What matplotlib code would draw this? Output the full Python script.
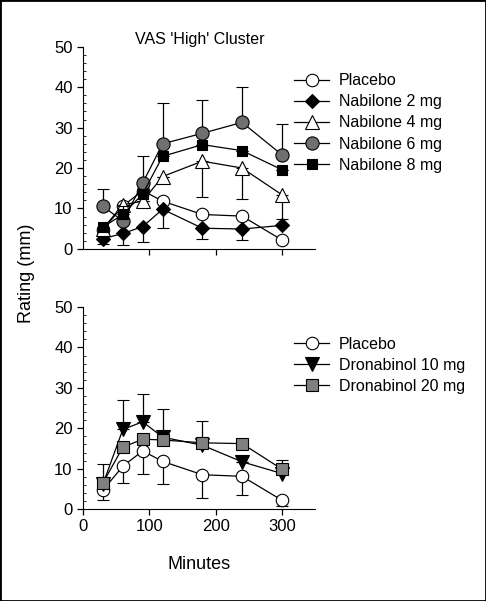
import matplotlib

matplotlib.use("Agg")
import matplotlib.pyplot as plt
from matplotlib.lines import Line2D
from matplotlib.patches import Rectangle
from matplotlib.ticker import MultipleLocator

plt.rcParams["font.family"] = ["Liberation Sans", "DejaVu Sans"]

minutes = [30, 60, 90, 120, 180, 240, 300]

# top panel: nabilone
top_labels = ["Placebo", "Nabilone 2 mg", "Nabilone 4 mg", "Nabilone 6 mg", "Nabilone 8 mg"]
placebo = [4.7, 10.6, 14.4, 11.8, 8.5, 8.1, 2.2]
nab2 = [2.5, 3.8, 5.5, 9.8, 5.1, 4.9, 5.8]
nab4 = [5.0, 10.9, 11.8, 17.9, 21.7, 20.0, 13.4]
nab6 = [10.5, 6.9, 16.3, 26.0, 28.6, 31.3, 23.3]
nab8 = [5.4, 8.5, 13.6, 22.9, 25.8, 24.3, 19.6]
# error bar lengths (below, above); 0 where the bar is not visible
placebo_top_lo = [0, 0, 0, 0, 0, 0, 0]
placebo_top_hi = [0, 0, 0, 0, 0, 0, 0]
nab2_lo = [1.2, 2.8, 3.9, 4.7, 2.6, 2.7, 0]
nab2_hi = [0, 0, 0, 0, 0, 0, 0]
nab4_lo = [0, 0, 0, 0, 8.8, 7.7, 6.0]
nab4_hi = [0, 0, 0, 0, 0, 0, 0]
nab6_lo = [0, 0, 0, 0, 0, 0, 0]
nab6_hi = [4.4, 3.8, 6.6, 10.0, 8.3, 8.7, 7.6]
nab8_lo = [0, 0, 0, 0, 0, 0, 0]
nab8_hi = [0, 0, 0, 0, 0, 0, 0]

# bottom panel: dronabinol
bot_labels = ["Placebo", "Dronabinol 10 mg", "Dronabinol 20 mg"]
dro10 = [6.2, 19.7, 21.6, 17.8, 15.8, 11.7, 8.8]
dro20 = [6.5, 15.3, 17.3, 17.1, 16.4, 16.2, 9.9]
placebo_lo = [2.5, 4.2, 5.8, 5.6, 5.7, 4.5, 1.4]
placebo_hi = [0, 0, 0, 0, 0, 0, 0]
dro10_lo = [0, 0, 0, 0, 0, 0, 0]
dro10_hi = [5.0, 7.3, 6.9, 6.9, 0, 0, 0]
dro20_lo = [0, 0, 0, 0, 0, 0, 0]
dro20_hi = [0, 0, 0, 0, 5.5, 0, 2.2]

fig = plt.figure(figsize=(4.86, 6.01), dpi=100)
ax1 = fig.add_axes([0.171, 0.586, 0.477, 0.336])
ax2 = fig.add_axes([0.171, 0.153, 0.477, 0.336])

styles_top = [
    dict(marker="o", mfc="white", ms=9),
    dict(marker="D", mfc="black", ms=7.5),
    dict(marker="^", mfc="white", ms=9.5),
    dict(marker="o", mfc="#707070", ms=9.5),
    dict(marker="s", mfc="black", ms=7.5),
]
styles_bot = [
    dict(marker="o", mfc="white", ms=9),
    dict(marker="v", mfc="black", ms=9.5),
    dict(marker="s", mfc="#808080", ms=8),
]


def draw(ax, series, errs, labels, styles):
    handles = []
    for z, (vals, (lo, hi), st) in enumerate(zip(series, errs, styles)):
        ax.errorbar(minutes, vals, yerr=[lo, hi], color="black", lw=0.9,
                    elinewidth=0.9, capsize=4.5, capthick=0.9, mec="black",
                    mew=0.8, zorder=3 + z, **st)
        handles.append(Line2D([], [], color="black", lw=0.9, mec="black", mew=0.8, **st))
    ax.set_xlim(0, 350)
    ax.set_ylim(0, 50)
    ax.spines["top"].set_visible(False)
    ax.spines["right"].set_visible(False)
    ax.xaxis.set_major_locator(MultipleLocator(100))
    ax.yaxis.set_major_locator(MultipleLocator(10))
    ax.yaxis.set_minor_locator(MultipleLocator(2))
    ax.tick_params(axis="both", which="major", direction="out", length=4,
                   width=0.9, labelsize=12)
    ax.tick_params(axis="y", which="minor", direction="in", length=2, width=0.6)
    ax.set_xticks([100, 200, 300] if ax is ax1 else [0, 100, 200, 300])
    return handles


h1 = draw(ax1, [placebo, nab2, nab4, nab6, nab8],
          [(placebo_top_lo, placebo_top_hi), (nab2_lo, nab2_hi), (nab4_lo, nab4_hi),
           (nab6_lo, nab6_hi), (nab8_lo, nab8_hi)], top_labels, styles_top)
ax1.tick_params(axis="x", labelbottom=False)

h2 = draw(ax2, [placebo, dro10, dro20],
          [(placebo_lo, placebo_hi), (dro10_lo, dro10_hi), (dro20_lo, dro20_hi)],
          bot_labels, styles_bot)

for h, l, anchor in [(h1, top_labels, (0.605, 0.878)), (h2, bot_labels, (0.605, 0.440))]:
    fig.legend(h, l, loc="upper left", bbox_to_anchor=anchor, frameon=False,
               fontsize=11.5, handlelength=2.2, handletextpad=0.6,
               labelspacing=0.38, borderaxespad=0, borderpad=0)

fig.text(0.41, 0.935, "VAS 'High' Cluster", ha="center", va="center", fontsize=11.5)
fig.text(0.055, 0.545, "Rating (mm)", rotation=90, ha="center", va="center", fontsize=13)
fig.text(0.41, 0.06, "Minutes", ha="center", va="center", fontsize=13)

fig.patches.append(Rectangle((0, 0), 1, 1, transform=fig.transFigure, fill=False,
                             edgecolor="black", lw=2))

fig.savefig("out.png", dpi=100)
